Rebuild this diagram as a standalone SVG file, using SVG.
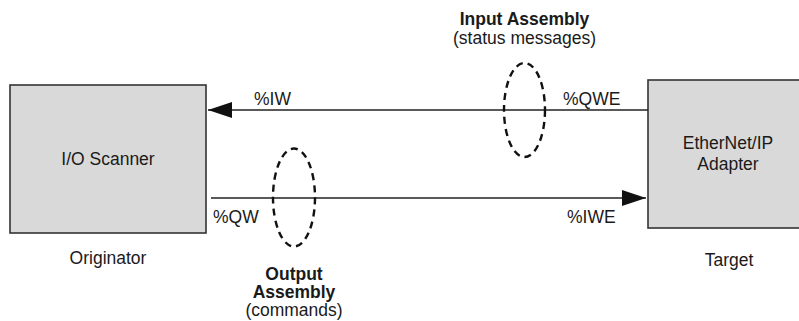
<svg xmlns="http://www.w3.org/2000/svg" width="799" height="321" viewBox="0 0 799 321">
<style>
text{font-family:"Liberation Sans",Arial,sans-serif;font-size:17.5px;fill:#1a1a1a}
.b{font-weight:bold}
.box{fill:#d9d9d9;stroke:#333;stroke-width:1.6}
.ln{stroke:#222;stroke-width:1.6;fill:none}
.el{fill:none;stroke:#111;stroke-width:2.4;stroke-dasharray:7 5}
</style>
<defs>
<marker id="ah" markerWidth="24" markerHeight="16" refX="24" refY="8" orient="auto" markerUnits="userSpaceOnUse">
<path d="M0,0 L24,8 L0,16 Z" fill="#111"/>
</marker>
</defs>
<rect width="799" height="321" fill="#fff"/>
<g id="scanner">
<rect class="box" x="10" y="85" width="196" height="148"/>
<text x="108" y="165" text-anchor="middle">I/O Scanner</text>
<text x="108" y="264" text-anchor="middle">Originator</text>
</g>
<g id="adapter">
<rect class="box" x="648" y="80" width="170" height="148"/>
<text x="728" y="149" text-anchor="middle">EtherNet/IP</text>
<text x="728" y="170" text-anchor="middle">Adapter</text>
<text x="729" y="266" text-anchor="middle">Target</text>
</g>
<g id="connectors">
<line class="ln" x1="648" y1="110" x2="208" y2="110" marker-end="url(#ah)"/>
<line class="ln" x1="211" y1="198" x2="646" y2="198" marker-end="url(#ah)"/>
<text x="254" y="105">%IW</text>
<text x="563" y="105">%QWE</text>
<text x="213" y="223">%QW</text>
<text x="567" y="223">%IWE</text>
</g>
<g id="input-assembly">
<ellipse class="el" cx="524.5" cy="110" rx="20.5" ry="47"/>
<text class="b" x="524.5" y="25" text-anchor="middle">Input Assembly</text>
<text x="524.5" y="44" text-anchor="middle">(status messages)</text>
</g>
<g id="output-assembly">
<ellipse class="el" cx="294" cy="197.5" rx="21" ry="49"/>
<text class="b" x="294" y="280" text-anchor="middle">Output</text>
<text class="b" x="294" y="298" text-anchor="middle">Assembly</text>
<text x="294" y="316" text-anchor="middle">(commands)</text>
</g>
</svg>
